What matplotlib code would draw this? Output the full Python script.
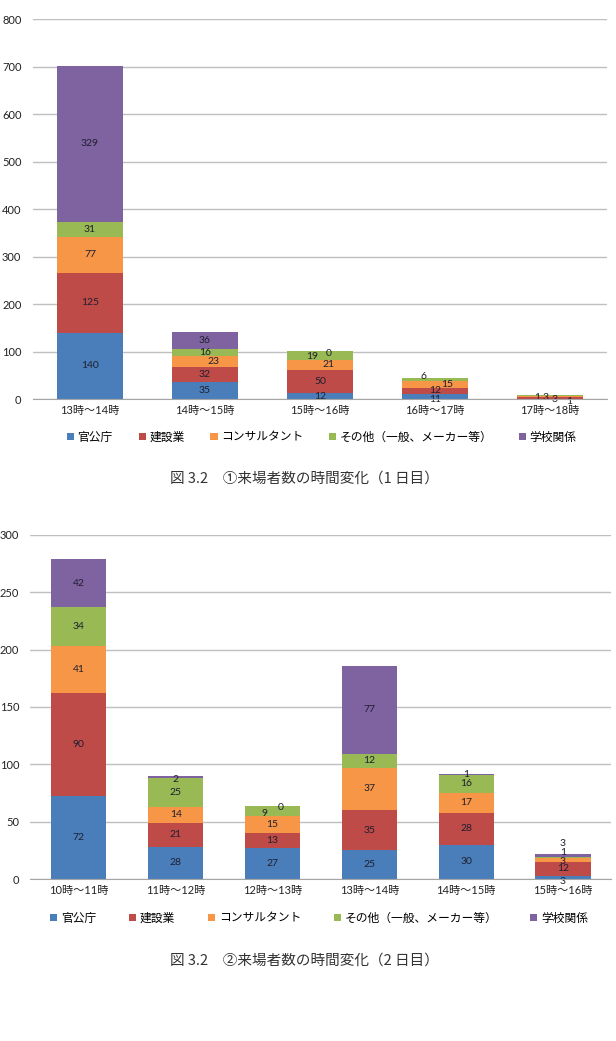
"""Stacked bar charts: visitors per time slot, day 1 and day 2."""

import numpy as np
import matplotlib.pyplot as plt
from matplotlib.patches import Patch

plt.rcParams["font.family"] = ["Lato", "Noto Sans CJK JP", "DejaVu Sans"]

categories = ["官公庁", "建設業", "コンサルタント", "その他（一般、メーカー等）", "学校関係"]
colors = ["#4a7ebb", "#be4b48", "#f79646", "#98b954", "#7f63a1"]

# day 1
slots_day1 = ["13時～14時", "14時～15時", "15時～16時", "16時～17時", "17時～18時"]
kankocho_1 = [140, 35, 12, 11, 1]
kensetsu_1 = [125, 32, 50, 12, 3]
consul_1 = [77, 23, 21, 15, 3]
sonota_1 = [31, 16, 19, 6, 1]
gakko_1 = [329, 36, 0, None, None]

# day 2
slots_day2 = ["10時～11時", "11時～12時", "12時～13時", "13時～14時", "14時～15時", "15時～16時"]
kankocho_2 = [72, 28, 27, 25, 30, 3]
kensetsu_2 = [90, 21, 13, 35, 28, 12]
consul_2 = [41, 14, 15, 37, 17, 3]
sonota_2 = [34, 25, 9, 12, 16, 1]
gakko_2 = [42, 2, 0, 77, 1, 3]

# label nudges (points) for small segments, like Excel spreads them out
# key: (slot index, category index)
nudge_day1 = {
    (1, 2): (6, 0),
    (2, 2): (6, 0), (2, 3): (-6, -1), (2, 4): (6, -2),
    (3, 0): (0, -2), (3, 2): (9, 0), (3, 3): (-8, 2),
    (4, 0): (-9, 1), (4, 1): (-3, 0), (4, 2): (3, -2), (4, 3): (14, -4),
}
nudge_day2 = {
    (1, 4): (0, -2),
    (2, 3): (-6, -2), (2, 4): (6, -1),
    (5, 0): (0, -3), (5, 2): (0, -1), (5, 3): (0, 4), (5, 4): (0, 9),
}


def stacked_chart(fig, rect, slots, series, ymax, ystep, nudge,
                  legend_x, legend_y, colspace, caption, caption_y):
    """Draw one stacked bar chart with legend and caption."""
    ax = fig.add_axes(rect)
    x = np.arange(len(slots))
    bottom = np.zeros(len(slots))
    for k, (name, vals, color) in enumerate(zip(categories, series, colors)):
        heights = np.array([0 if v is None else v for v in vals], dtype=float)
        labels = ["" if v is None else str(v) for v in vals]
        bars = ax.bar(x, heights, 0.57, bottom=bottom, color=color, label=name, zorder=2)
        texts = ax.bar_label(bars, labels=labels, label_type="center", fontsize=7.5,
                             color="#1f1f2f", zorder=3)
        for i, t in enumerate(texts):
            if (i, k) in nudge:
                t.xyann = nudge[(i, k)]
        bottom += heights

    ax.set_xlim(-0.5, len(slots) - 0.5)
    ax.set_ylim(0, ymax)
    ax.set_yticks(np.arange(0, ymax + 1, ystep))
    ax.set_xticks(x)
    ax.set_xticklabels(slots, fontsize=8)
    ax.tick_params(axis="both", length=0, labelsize=8, colors="#222222")
    ax.tick_params(axis="y", pad=8)
    ax.tick_params(axis="x", pad=4)
    ax.grid(axis="y", color="#bfbfbf", linewidth=1, zorder=0)
    for side in ["top", "right", "left"]:
        ax.spines[side].set_visible(False)
    ax.spines["bottom"].set_color("#a6a6a6")
    ax.spines["bottom"].set_zorder(4)

    handles = [Patch(facecolor=c, edgecolor="none") for c in colors]
    fig.legend(handles, categories, loc="center", bbox_to_anchor=(legend_x, legend_y),
               ncol=5, frameon=False, fontsize=8.5, handlelength=0.6,
               handleheight=0.6, handletextpad=0.3, columnspacing=colspace)
    fig.text(0.494, caption_y, caption, ha="center", va="center", fontsize=10.5,
             family=["Noto Sans CJK JP", "DejaVu Sans"], color="#333333")
    return ax


fig = plt.figure(figsize=(6.16, 10.41), dpi=100)

stacked_chart(fig, [0.0528, 0.6167, 0.9334, 0.365], slots_day1,
              [kankocho_1, kensetsu_1, consul_1, sonota_1, gakko_1],
              800, 100, nudge_day1, 0.522, 1 - 437 / 1041, 2.2,
              "図 3.2　①来場者数の時間変化（1 日目）", 1 - 479 / 1041)

stacked_chart(fig, [0.0495, 0.1556, 0.943, 0.3305], slots_day2,
              [kankocho_2, kensetsu_2, consul_2, sonota_2, gakko_2],
              300, 50, nudge_day2, 0.518, 1 - 918 / 1041, 2.8,
              "図 3.2　②来場者数の時間変化（2 日目）", 1 - 961 / 1041)

fig.savefig("out.png", dpi=100, facecolor="white")
plt.close(fig)
